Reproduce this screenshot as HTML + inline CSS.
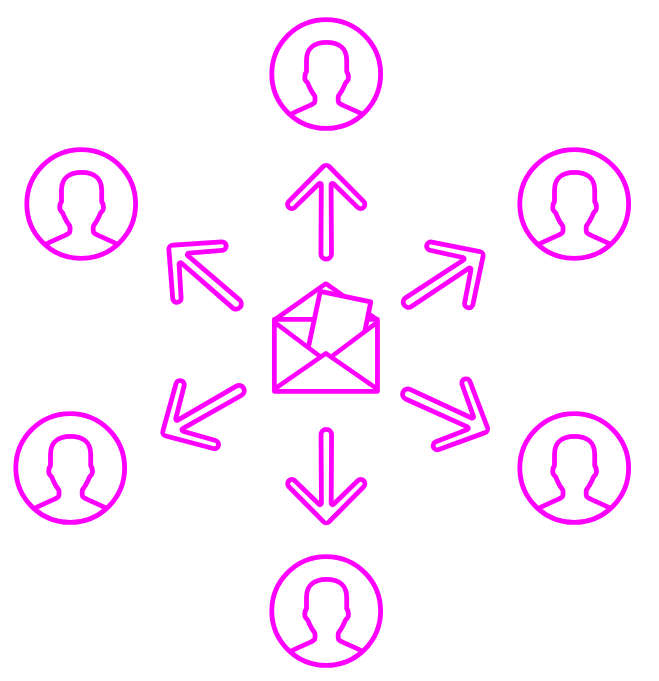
<!DOCTYPE html>
<html>
<head>
<meta charset="utf-8">
<title>Email distribution</title>
<style>
html,body{margin:0;padding:0;background:#fff;}
body{width:659px;height:681px;overflow:hidden;font-family:"Liberation Sans",sans-serif;}
svg{display:block;}
</style>
</head>
<body>
<svg width="659" height="681" viewBox="0 0 659 681">
<defs>
  <g id="user" fill="none" stroke="#ff00ff" stroke-width="4.8">
    <circle cx="0" cy="0" r="54.4"/>
    <path stroke-linejoin="round" transform="translate(0.4 0)" d="M -36.9 40.8 Q -30.6 37.6 -24.4 34.9 Q -15.8 31.2 -13.5 29.8 Q -11.6 28.6 -11.6 26.7 L -11.6 23.2 Q -11.6 22.2 -12.3 21.2 Q -15.1 17.6 -17.2 12.9 Q -18 11 -18.7 9.4 Q -19.2 8 -20.8 6.9 Q -22.1 5.2 -21.8 2.6 Q -21.6 -0.6 -20.1 -2.4 L -20.1 -14 C -20.1 -25.6 -12.2 -31.7 0 -31.7 C 12.2 -31.7 20.1 -25.6 20.1 -14 L 20.1 -2.4 Q 21.6 -0.6 21.8 2.6 Q 22.1 5.2 20.8 6.9 Q 19.2 8 18.7 9.4 Q 18 11 17.2 12.9 Q 15.1 17.6 12.3 21.2 Q 11.6 22.2 11.6 23.2 L 11.6 26.7 Q 11.6 28.6 13.5 29.8 Q 15.8 31.2 24.4 34.9 Q 30.6 37.6 36.9 40.8"/>
  </g>
</defs>
<rect width="659" height="681" fill="#ffffff"/>

<!-- users -->
<use href="#user" transform="translate(326.2 74)"/>
<use href="#user" transform="translate(81.2 204)"/>
<use href="#user" transform="translate(574.2 204)"/>
<use href="#user" transform="translate(70.2 468)"/>
<use href="#user" transform="translate(574.2 468)"/>
<use href="#user" transform="translate(326.2 611)"/>

<!-- arrows -->
<g transform="translate(326.20 165.25) rotate(0)"><path fill="#ff00ff" stroke="#ff00ff" stroke-width="4.8" stroke-linejoin="round" d="M -5.25 88.60 L -4.90 19.52 A 1.4 1.4 0 0 0 -7.28 18.52 L -31.47 42.11 A 4.2 4.2 0 1 1 -37.39 36.15 L -2.92 1.25 A 4.1 4.1 0 0 1 2.92 1.25 L 37.39 36.15 A 4.2 4.2 0 1 1 31.47 42.11 L 7.28 18.52 A 1.4 1.4 0 0 0 4.90 19.52 L 5.25 88.60 A 5.25 5.25 0 0 1 -5.25 88.60 Z"/><path fill="#ffffff" d="M -2.85 88.60 L -2.50 19.52 A 3.80 3.80 0 0 0 -8.95 16.80 L -33.14 40.39 A 1.80 1.80 0 1 1 -35.68 37.84 L 0 1.72 L 35.68 37.84 A 1.80 1.80 0 1 1 33.14 40.39 L 8.95 16.80 A 3.80 3.80 0 0 0 2.50 19.52 L 2.85 88.60 A 2.85 2.85 0 0 1 -2.85 88.60 Z"/></g>
<g transform="translate(169.84 246.55) rotate(-49.15)"><path fill="#ff00ff" stroke="#ff00ff" stroke-width="4.8" stroke-linejoin="round" d="M -5.25 87.60 L -4.90 19.52 A 1.4 1.4 0 0 0 -7.28 18.52 L -31.47 42.11 A 4.2 4.2 0 1 1 -37.39 36.15 L -2.92 1.25 A 4.1 4.1 0 0 1 2.92 1.25 L 37.39 36.15 A 4.2 4.2 0 1 1 31.47 42.11 L 7.28 18.52 A 1.4 1.4 0 0 0 4.90 19.52 L 5.25 87.60 A 5.25 5.25 0 0 1 -5.25 87.60 Z"/><path fill="#ffffff" d="M -2.85 87.60 L -2.50 19.52 A 3.80 3.80 0 0 0 -8.95 16.80 L -33.14 40.39 A 1.80 1.80 0 1 1 -35.68 37.84 L 0 1.72 L 35.68 37.84 A 1.80 1.80 0 1 1 33.14 40.39 L 8.95 16.80 A 3.80 3.80 0 0 0 2.50 19.52 L 2.85 87.60 A 2.85 2.85 0 0 1 -2.85 87.60 Z"/></g>
<g transform="translate(482.48 253.37) rotate(56.6)"><path fill="#ff00ff" stroke="#ff00ff" stroke-width="4.8" stroke-linejoin="round" d="M -5.25 88.60 L -4.90 19.52 A 1.4 1.4 0 0 0 -7.28 18.52 L -31.47 42.11 A 4.2 4.2 0 1 1 -37.39 36.15 L -2.92 1.25 A 4.1 4.1 0 0 1 2.92 1.25 L 37.39 36.15 A 4.2 4.2 0 1 1 31.47 42.11 L 7.28 18.52 A 1.4 1.4 0 0 0 4.90 19.52 L 5.25 88.60 A 5.25 5.25 0 0 1 -5.25 88.60 Z"/><path fill="#ffffff" d="M -2.85 88.60 L -2.50 19.52 A 3.80 3.80 0 0 0 -8.95 16.80 L -33.14 40.39 A 1.80 1.80 0 1 1 -35.68 37.84 L 0 1.72 L 35.68 37.84 A 1.80 1.80 0 1 1 33.14 40.39 L 8.95 16.80 A 3.80 3.80 0 0 0 2.50 19.52 L 2.85 88.60 A 2.85 2.85 0 0 1 -2.85 88.60 Z"/></g>
<g transform="translate(163.29 434.12) rotate(-119.85)"><path fill="#ff00ff" stroke="#ff00ff" stroke-width="4.8" stroke-linejoin="round" d="M -5.25 87.30 L -4.90 19.52 A 1.4 1.4 0 0 0 -7.28 18.52 L -31.47 42.11 A 4.2 4.2 0 1 1 -37.39 36.15 L -2.92 1.25 A 4.1 4.1 0 0 1 2.92 1.25 L 37.39 36.15 A 4.2 4.2 0 1 1 31.47 42.11 L 7.28 18.52 A 1.4 1.4 0 0 0 4.90 19.52 L 5.25 87.30 A 5.25 5.25 0 0 1 -5.25 87.30 Z"/><path fill="#ffffff" d="M -2.85 87.30 L -2.50 19.52 A 3.80 3.80 0 0 0 -8.95 16.80 L -33.14 40.39 A 1.80 1.80 0 1 1 -35.68 37.84 L 0 1.72 L 35.68 37.84 A 1.80 1.80 0 1 1 33.14 40.39 L 8.95 16.80 A 3.80 3.80 0 0 0 2.50 19.52 L 2.85 87.30 A 2.85 2.85 0 0 1 -2.85 87.30 Z"/></g>
<g transform="translate(487.28 430.59) rotate(114.6)"><path fill="#ff00ff" stroke="#ff00ff" stroke-width="4.8" stroke-linejoin="round" d="M -5.25 87.40 L -4.90 19.52 A 1.4 1.4 0 0 0 -7.28 18.52 L -31.47 42.11 A 4.2 4.2 0 1 1 -37.39 36.15 L -2.92 1.25 A 4.1 4.1 0 0 1 2.92 1.25 L 37.39 36.15 A 4.2 4.2 0 1 1 31.47 42.11 L 7.28 18.52 A 1.4 1.4 0 0 0 4.90 19.52 L 5.25 87.40 A 5.25 5.25 0 0 1 -5.25 87.40 Z"/><path fill="#ffffff" d="M -2.85 87.40 L -2.50 19.52 A 3.80 3.80 0 0 0 -8.95 16.80 L -33.14 40.39 A 1.80 1.80 0 1 1 -35.68 37.84 L 0 1.72 L 35.68 37.84 A 1.80 1.80 0 1 1 33.14 40.39 L 8.95 16.80 A 3.80 3.80 0 0 0 2.50 19.52 L 2.85 87.40 A 2.85 2.85 0 0 1 -2.85 87.40 Z"/></g>
<g transform="translate(326.30 522.85) rotate(180)"><path fill="#ff00ff" stroke="#ff00ff" stroke-width="4.8" stroke-linejoin="round" d="M -5.25 88.20 L -4.90 19.52 A 1.4 1.4 0 0 0 -7.28 18.52 L -31.47 42.11 A 4.2 4.2 0 1 1 -37.39 36.15 L -2.92 1.25 A 4.1 4.1 0 0 1 2.92 1.25 L 37.39 36.15 A 4.2 4.2 0 1 1 31.47 42.11 L 7.28 18.52 A 1.4 1.4 0 0 0 4.90 19.52 L 5.25 88.20 A 5.25 5.25 0 0 1 -5.25 88.20 Z"/><path fill="#ffffff" d="M -2.85 88.20 L -2.50 19.52 A 3.80 3.80 0 0 0 -8.95 16.80 L -33.14 40.39 A 1.80 1.80 0 1 1 -35.68 37.84 L 0 1.72 L 35.68 37.84 A 1.80 1.80 0 1 1 33.14 40.39 L 8.95 16.80 A 3.80 3.80 0 0 0 2.50 19.52 L 2.85 88.20 A 2.85 2.85 0 0 1 -2.85 88.20 Z"/></g>

<!-- envelope -->
<g fill="none" stroke="#ff00ff" stroke-width="4.8" stroke-linejoin="round" stroke-linecap="butt">
  <path d="M 274.35 320 L 324.68 284.27 Q 325.9 283.4 327.12 284.27 L 377.45 320" stroke-width="4.6"/>
  <path d="M 274.35 319.4 L 377.45 319.4"/>
  <path d="M 308.4 347.2 L 320.3 291.3 L 370.8 301.8 L 364.8 331.5 L 325.9 358 Z" fill="#ffffff" stroke="none"/>
  <path d="M 308.4 347.2 L 320.3 291.3 L 370.8 301.8 L 364.8 331.5"/>
  <path d="M 274.35 319.4 L 274.35 391.3 L 377.45 391.3 L 377.45 319.4" stroke-linecap="round"/>
  <path d="M 274.35 322.1 L 321.5 357.5" stroke-width="4.6"/>
  <path d="M 377.45 322.1 L 330.3 357.5" stroke-width="4.6"/>
  <path d="M 274.35 389.1 L 325.9 353.4 L 377.45 389.1" stroke-width="4.6"/>
</g>
</svg>
</body>
</html>
